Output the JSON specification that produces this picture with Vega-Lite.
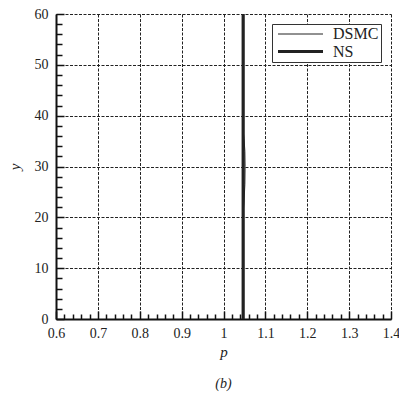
{
  "$schema": "https://vega.github.io/schema/vega-lite/v6.json",
  "autosize": "none",
  "width": 335,
  "height": 305,
  "padding": {"left": 56, "top": 14, "right": 8, "bottom": 77},
  "background": "white",
  "title": {"text": "(b)", "orient": "bottom", "font": "Liberation Serif", "fontSize": 14, "fontStyle": "italic", "fontWeight": "normal", "color": "#222", "offset": 18},
  "config": {
    "view": {"stroke": null},
    "font": "Liberation Serif"
  },
  "datasets": {
    "lines": [
      {"series": "DSMC", "p": 1.047, "y": 0},
      {"series": "DSMC", "p": 1.047, "y": 21},
      {"series": "DSMC", "p": 1.049, "y": 23},
      {"series": "DSMC", "p": 1.051, "y": 26.5},
      {"series": "DSMC", "p": 1.0515, "y": 30},
      {"series": "DSMC", "p": 1.051, "y": 33},
      {"series": "DSMC", "p": 1.049, "y": 35.5},
      {"series": "DSMC", "p": 1.047, "y": 37},
      {"series": "DSMC", "p": 1.047, "y": 60},
      {"series": "NS", "p": 1.047, "y": 0},
      {"series": "NS", "p": 1.047, "y": 60}
    ]
  },
  "data": {"name": "lines"},
  "mark": {"type": "line", "color": "#222", "clip": true},
  "encoding": {
    "x": {
      "field": "p", "type": "quantitative",
      "scale": {"domain": [0.6, 1.4], "nice": false, "zero": false},
      "axis": {
        "title": "p", "titleFont": "Liberation Serif", "titleFontStyle": "italic", "titleFontWeight": "normal", "titleFontSize": 15, "titleColor": "#222", "titlePadding": 1,
        "values": [0.6,0.62,0.64,0.66,0.68,0.7,0.72,0.74,0.76,0.78,0.8,0.82,0.84,0.86,0.88,0.9,0.92,0.94,0.96,0.98,1.0,1.02,1.04,1.06,1.08,1.1,1.12,1.14,1.16,1.18,1.2,1.22,1.24,1.26,1.28,1.3,1.32,1.34,1.36,1.38,1.4],
        "format": "~g",
        "labelExpr": "abs(datum.value*10 - round(datum.value*10)) < 0.001 ? datum.label : ''",
        "labelFont": "Liberation Serif", "labelFontSize": 14, "labelColor": "#222", "labelPadding": 15, "labelFlush": false, "labelOverlap": false,
        "domainColor": "#111", "domainWidth": 2,
        "tickColor": "#111", "tickWidth": 1.5,
        "tickSize": {"condition": {"test": "abs(datum.value*10 - round(datum.value*10)) < 0.001", "value": -8}, "value": -5},
        "grid": true, "gridColor": "#222", "gridDash": [3, 1.5], "gridWidth": 1,
        "gridOpacity": {"condition": {"test": "abs(datum.value*10 - round(datum.value*10)) < 0.001", "value": 1}, "value": 0}
      }
    },
    "y": {
      "field": "y", "type": "quantitative",
      "scale": {"domain": [0, 60], "nice": false},
      "axis": {
        "title": "y", "titleFont": "Liberation Serif", "titleFontStyle": "italic", "titleFontWeight": "normal", "titleFontSize": 15, "titleColor": "#222", "titlePadding": 12,
        "values": [0,2,4,6,8,10,12,14,16,18,20,22,24,26,28,30,32,34,36,38,40,42,44,46,48,50,52,54,56,58,60],
        "labelExpr": "datum.value % 10 == 0 ? datum.label : ''",
        "labelFont": "Liberation Serif", "labelFontSize": 14, "labelColor": "#222", "labelPadding": 16, "labelFlush": false, "labelOverlap": false,
        "domainColor": "#111", "domainWidth": 2,
        "tickColor": "#111", "tickWidth": 1.5,
        "tickSize": {"condition": {"test": "datum.value % 10 == 0", "value": -8}, "value": -6},
        "grid": true, "gridColor": "#222", "gridDash": [3, 1.5], "gridWidth": 1,
        "gridOpacity": {"condition": {"test": "datum.value % 10 == 0", "value": 1}, "value": 0}
      }
    },
    "order": {"field": "y", "type": "quantitative"},
    "strokeWidth": {
      "field": "series", "type": "nominal",
      "scale": {"domain": ["DSMC", "NS"], "range": [1, 3.2]},
      "legend": {
        "title": null, "orient": "top-right", "offset": 10,
        "symbolType": "M-1,0H5", "symbolSize": 225, "symbolStrokeColor": "#222",
        "labelFont": "Liberation Serif", "labelFontSize": 16, "labelColor": "#222",
        "strokeColor": "#333", "fillColor": "white", "padding": 2, "rowPadding": 0,
        "labelOffset": 38, "symbolOffset": 2
      }
    }
  }
}
